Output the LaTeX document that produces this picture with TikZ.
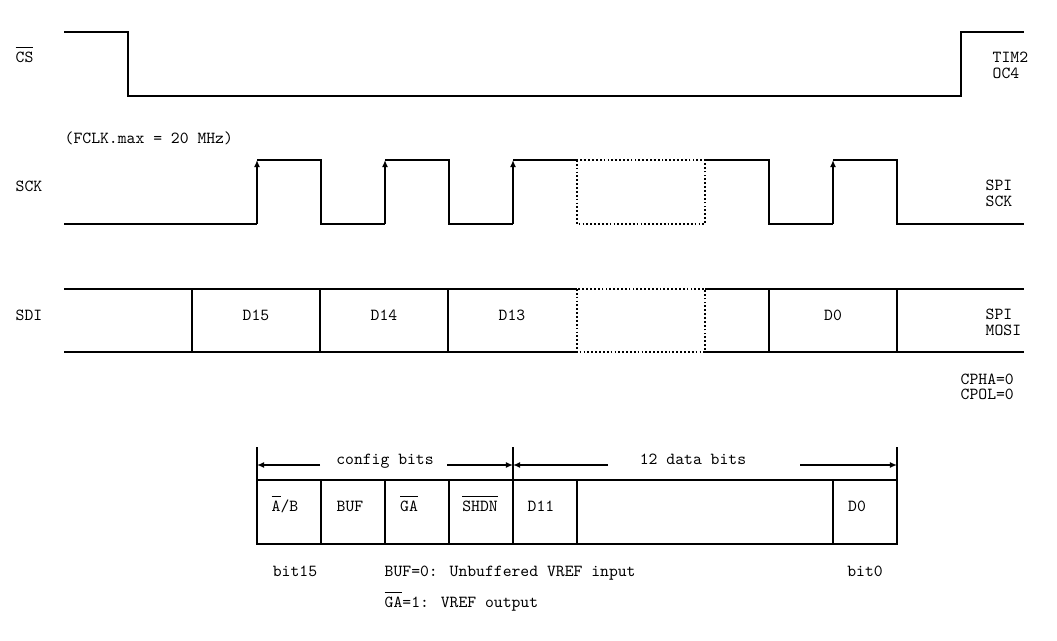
\documentclass[tikz,border=0pt]{standalone}
\usetikzlibrary{arrows.meta}

\newcommand{\ovl}[1]{\leavevmode\vbox{\hrule height 0.5pt \kern 2.2pt \hbox{#1}}}

\begin{document}
\begin{tikzpicture}[x=0.02cm, y=-0.02cm, line width=0.8pt]
      % Define styles
      \tikzset{txt/.style={inner sep=0pt, text height=1.5ex, text depth=0.4ex, font=\ttfamily\fontsize{9.6}{11}\selectfont}}
      \tikzset{rise/.style={-{Latex[length=4pt,width=3.4pt]}}}
      \tikzset{gap/.style={dash pattern=on 1pt off 1.2pt, line width=0.6pt}}

      \useasboundingbox (0,0) rectangle (1057,641);

      % Signal names
      \node[txt, anchor=west] (cs) at (15,58) {\ovl{CS}};
      \node[txt, anchor=west] (sck) at (15,187) {SCK};
      \node[txt, anchor=west] (sdi) at (15,316) {SDI};
      \node[txt, anchor=west] (fclk) at (64,139) {(FCLK.max = 20 MHz)};

      % Pin names
      \node[txt, anchor=west] (tim) at (992,58) {TIM2};
      \node[txt, anchor=west] (oc) at (992,74) {OC4};
      \node[txt, anchor=west] (spi1) at (985,186) {SPI};
      \node[txt, anchor=west] (spisck) at (985,202) {SCK};
      \node[txt, anchor=west] (spi2) at (985,315) {SPI};
      \node[txt, anchor=west] (mosi) at (985,331) {MOSI};
      \node[txt, anchor=west] (cpha) at (960,380) {CPHA=0};
      \node[txt, anchor=west] (cpol) at (960,395) {CPOL=0};

      % CS line
      \draw (64,32) -- (128,32) -- (128,96) -- (961,96) -- (961,32) -- (1024,32);

      % SCK line
      \draw (64,224) -- (257,224);
      \draw[rise] (257,224) -- (257,160);
      \draw (257,160) -- (321,160) -- (321,224) -- (385,224);
      \draw[rise] (385,224) -- (385,160);
      \draw (385,160) -- (449,160) -- (449,224) -- (513,224);
      \draw[rise] (513,224) -- (513,160);
      \draw (513,160) -- (577,160);
      \draw[gap] (577,160) rectangle (705,224);
      \draw (705,160) -- (769,160) -- (769,224) -- (833,224);
      \draw[rise] (833,224) -- (833,160);
      \draw (833,160) -- (897,160) -- (897,224) -- (1024,224);

      % SDI line
      \draw (64,289) -- (577,289);
      \draw (64,352) -- (577,352);
      \draw (705,289) -- (1024,289);
      \draw (705,352) -- (1024,352);
      \draw[gap] (577,289) rectangle (705,352);
      \draw (192,289) -- (192,352);
      \draw (320,289) -- (320,352);
      \draw (448,289) -- (448,352);
      \draw (769,289) -- (769,352);
      \draw (897,289) -- (897,352);

      % SDI bits
      \node[txt] (d15) at (256,316) {D15};
      \node[txt] (d14) at (384,316) {D14};
      \node[txt] (d13) at (512,316) {D13};
      \node[txt] (d0) at (833,316) {D0};

      % Register
      \draw (257,480) rectangle (897,544);
      \draw (321,480) -- (321,544);
      \draw (385,480) -- (385,544);
      \draw (449,480) -- (449,544);
      \draw (513,480) -- (513,544);
      \draw (577,480) -- (577,544);
      \draw (833,480) -- (833,544);

      \node[txt] (ab) at (285,507) {\ovl{A}/B};
      \node[txt] (buf) at (350,507) {BUF};
      \node[txt] (ga) at (409,507) {\ovl{GA}};
      \node[txt] (shdn) at (480,507) {\ovl{SHDN}};
      \node[txt] (d11) at (541,507) {D11};
      \node[txt] (rd0) at (857,507) {D0};

      % Field widths
      \draw (257,447) -- (257,480);
      \draw (513,447) -- (513,480);
      \draw (897,447) -- (897,480);
      \coordinate (cfgL) at (257,465);
      \coordinate (cfgR) at (513,465);
      \coordinate (datR) at (897,465);
      \node[txt] (cfg) at (385,460) {config bits};
      \node[txt] (dat) at (693,460) {12 data bits};
      \draw[rise] (320,465) -- (cfgL);
      \draw[rise] (447,465) -- (cfgR);
      \draw[rise] (608,465) -- (cfgR);
      \draw[rise] (800,465) -- (datR);

      % Notes
      \node[txt] (b15) at (295,572) {bit15};
      \node[txt] (b0) at (865,572) {bit0};
      \node[txt, anchor=west] (bufnote) at (384,572) {BUF=0: Unbuffered VREF input};
      \node[txt, anchor=west] (ganote) at (384,603) {\ovl{GA}=1: VREF output};

    \end{tikzpicture}
\end{document}
